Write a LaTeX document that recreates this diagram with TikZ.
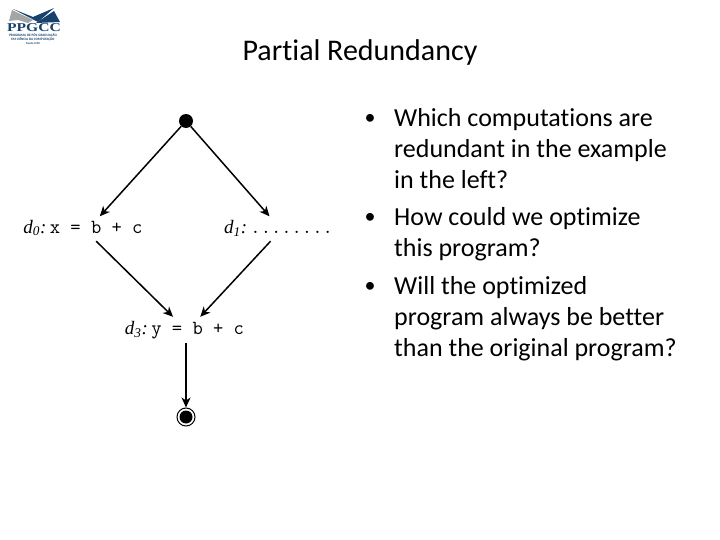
\documentclass[tikz,border=0pt]{standalone}
\usepackage{fontspec}
\usetikzlibrary{arrows.meta}
\setmainfont{Carlito}[Ligatures=NoCommon]
\newfontfamily\codefont{Latin Modern Mono}
\newfontfamily\labelfont{Liberation Serif}
\definecolor{logoblue}{RGB}{24,66,110}
\definecolor{logogray}{RGB}{165,165,165}
\tikzset{
  stmt/.style={inner sep=0pt,minimum height=26pt,font=\fontsize{20}{22}\selectfont},
  slide/.style={anchor=north west,inner sep=0pt,align=left,font=\fontsize{26}{31}\selectfont},
  dotmark/.style={font=\fontsize{22}{22}\selectfont},
  logotext/.style={inner sep=0pt,text=logoblue},
  tip/.style={-{Stealth[length=10pt,width=9pt,inset=3pt]},line width=1.5pt}
}
\newcommand{\lbl}[1]{{\labelfont\itshape\fontsize{19}{20}\selectfont d\textsubscript{#1}:}}
\begin{document}
\begin{tikzpicture}[x=1pt,y=-1pt]
  \useasboundingbox (0,0) rectangle (720,540);
  % logo
  \fill[logogray] (9,21) -- (12,10) -- (33,20) -- (28,23) -- (18,20) -- cycle;
  \fill[logoblue] (13,9) -- (33,17) -- (54,8) -- (38,22) -- cycle;
  \fill[logoblue] (36,23) -- (54,11) -- (60,22) -- cycle;
  \node[logotext,xscale=1.3] (L0) at (34,28) {\fontsize{12}{12}\selectfont\labelfont\bfseries PPGCC};
  \node[logotext] (L1) at (33,35.5) {\fontsize{3.4}{3}\selectfont\bfseries PROGRAMA DE PÓS-GRADUAÇÃO};
  \node[logotext] (L2) at (33,39.5) {\fontsize{3.4}{3}\selectfont\bfseries EM CIÊNCIA DA COMPUTAÇÃO};
  \node[logotext] (L3) at (33,43.5) {\fontsize{2.8}{3}\selectfont\bfseries Desde 1998};
  % title
  \node (T0) at (360,53) {\fontsize{30}{36}\selectfont Partial Redundancy};
  % flow graph
  \node[circle,fill=black,inner sep=0pt,minimum size=14pt] (A0_1) at (186,121) {};
  \node[stmt] (A1_0) at (83,228) {\lbl{0}\,{\codefont x = b + c}};
  \node[stmt] (A1_1) at (278.5,228) {\lbl{1}\,{\codefont ........}};
  \node[stmt] (A2_1) at (184.5,330) {\lbl{3}\,{\codefont y = b + c}};
  \node[circle,draw=black,line width=1pt,inner sep=0pt,minimum size=18pt] (A3_1) at (186,417) {};
  \node[circle,fill=black,inner sep=0pt,minimum size=13pt] (A3_2) at (186,417) {};
  \path (A0_1) edge [tip,shorten >=-2pt] (A1_0.36);
  \path (A0_1) edge [tip,shorten >=-2pt] (A1_1.128);
  \path (A1_0.-45) edge [tip] (A2_1.131);
  \path (A1_1.-121) edge [tip] (A2_1.40);
  \path (A2_1.south -| A3_1) edge [tip] (A3_1);
  % questions
  \node[dotmark] (B0) at (370,119) {•};
  \node[dotmark] (B1) at (370,218) {•};
  \node[dotmark] (B2) at (370,287) {•};
  \node[slide] (Q0) at (394,108) {Which computations are\\redundant in the example\\in the left?};
  \node[slide] (Q1) at (394,207) {How could we optimize\\this program?};
  \node[slide] (Q2) at (394,276) {Will the optimized\\program always be better\\than the original program?};
\end{tikzpicture}
\end{document}
